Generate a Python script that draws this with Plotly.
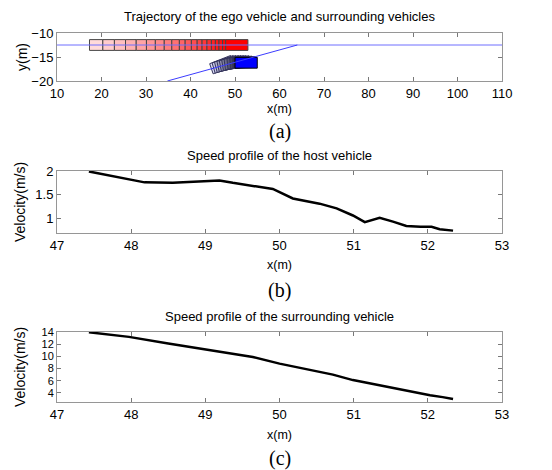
import plotly.graph_objects as go
import numpy as np

# ---------------- data ----------------
# (a) ego vehicle (red) rear x-positions at successive steps
ego_rear_x = [17.3, 20.3, 22.9, 25.4, 27.8, 30.1, 32.1, 34.1, 35.8, 37.5,
              38.8, 40.2, 41.5, 42.6, 43.7, 44.7, 45.6, 46.4, 47.2, 47.9]
ego_center_y = -12.5
vehicle_width = 2.25
vehicle_length = 5.0

# surrounding vehicle (blue) rear-center positions and headings (deg)
sur_rear_x = [44.7, 45.2, 45.7, 46.2, 46.7, 47.2, 47.7, 48.3, 48.9, 49.5, 50.0]
sur_rear_y = [-17.45, -17.3, -17.15, -17.0, -16.85, -16.7, -16.55, -16.4, -16.3, -16.22, -16.2]
sur_heading = [20, 18, 16, 14, 12, 10, 8, 6, 4, 2, 0]

lane_y = -12.5
merge_line_x = [34.8, 64.0]
merge_line_y = [-20.0, -12.5]

# (b) host vehicle speed profile
host_x = [47.43, 47.8, 48.18, 48.56, 48.92, 49.19, 49.37, 49.64, 49.91, 50.18,
          50.54, 50.77, 50.99, 51.15, 51.35, 51.53, 51.71, 51.9, 52.05, 52.16, 52.34]
host_v = [1.99, 1.88, 1.76, 1.75, 1.78, 1.80, 1.75, 1.68, 1.62, 1.42,
          1.31, 1.21, 1.06, 0.92, 1.01, 0.93, 0.84, 0.82, 0.82, 0.77, 0.74]

# (c) surrounding vehicle speed profile
sur_x = [47.43, 47.97, 48.5, 48.99, 49.64, 50.0, 50.4, 50.72, 50.99, 51.35, 51.67, 52.03, 52.2, 52.34]
sur_v = [13.95, 13.2, 12.1, 11.1, 9.9, 8.8, 7.8, 7.0, 6.1, 5.2, 4.4, 3.6, 3.3, 3.0]

titles = ["Trajectory of the ego vehicle and surrounding vehicles",
          "Speed profile of the host vehicle",
          "Speed profile of the surrounding vehicle"]
panel_labels = ["(a)", "(b)", "(c)"]

# ---------------- figure ----------------
W, H = 552, 470
fig = go.Figure()

def py(p):  # pixel-from-top -> paper
    return 1 - p / H

XD = [57 / W, 502 / W]

# red ego vehicle cells
n = len(ego_rear_x)
edges = ego_rear_x + [ego_rear_x[-1] + vehicle_length]
for i in range(n):
    t = i / (n - 1)
    g = int(round(218 * (1 - t) ** 1.2))
    if i == n - 1:
        g = 0
    x0, x1 = edges[i], edges[i + 1]
    y0, y1 = ego_center_y - vehicle_width / 2, ego_center_y + vehicle_width / 2
    fig.add_trace(go.Scatter(x=[x0, x1, x1, x0, x0], y=[y0, y0, y1, y1, y0],
                             mode="lines", fill="toself",
                             fillcolor=f"rgb(255,{g},{g})",
                             line=dict(color="rgb(70,70,70)", width=1),
                             xaxis="x", yaxis="y", showlegend=False, hoverinfo="skip"))

# blue surrounding vehicle boxes
m = len(sur_rear_x)
for i in range(m):
    th = np.deg2rad(sur_heading[i])
    hx, hy = np.cos(th), np.sin(th)
    nx, ny = -np.sin(th), np.cos(th)
    rx, ry = sur_rear_x[i], sur_rear_y[i]
    w2 = vehicle_width / 2
    L = vehicle_length
    xs = [rx + w2 * nx, rx - w2 * nx, rx - w2 * nx + L * hx, rx + w2 * nx + L * hx, rx + w2 * nx]
    ys = [ry + w2 * ny, ry - w2 * ny, ry - w2 * ny + L * hy, ry + w2 * ny + L * hy, ry + w2 * ny]
    if i == m - 1:
        fc = "rgb(0,0,255)"
        lc = "rgb(0,0,0)"
    else:
        t = i / (m - 2)
        c = int(round(220 - 170 * t))
        fc = f"rgb({c},{c},{min(255, c + 30)})"
        lc = "rgb(50,50,90)"
    fig.add_trace(go.Scatter(x=xs, y=ys, mode="lines", fill="toself", fillcolor=fc,
                             line=dict(color=lc, width=1),
                             xaxis="x", yaxis="y", showlegend=False, hoverinfo="skip"))

# lane line and merging path
fig.add_trace(go.Scatter(x=[10, 110], y=[lane_y, lane_y], mode="lines",
                         line=dict(color="rgb(110,110,255)", width=1),
                         xaxis="x", yaxis="y", showlegend=False, hoverinfo="skip"))
fig.add_trace(go.Scatter(x=merge_line_x, y=merge_line_y, mode="lines",
                         line=dict(color="rgb(60,60,255)", width=1),
                         xaxis="x", yaxis="y", showlegend=False, hoverinfo="skip"))

# speed profiles
fig.add_trace(go.Scatter(x=host_x, y=host_v, mode="lines",
                         line=dict(color="black", width=2.5),
                         xaxis="x2", yaxis="y2", showlegend=False))
fig.add_trace(go.Scatter(x=sur_x, y=sur_v, mode="lines",
                         line=dict(color="black", width=2.5),
                         xaxis="x3", yaxis="y3", showlegend=False))

def tf(size):
    return dict(family="Liberation Sans, Arial", size=size, color="black")

axcommon = dict(showline=True, mirror="ticks", linecolor="rgb(150,150,150)", linewidth=1,
                ticks="inside", ticklen=4, tickcolor="rgb(120,120,120)", automargin=False,
                showgrid=False, zeroline=False, fixedrange=True)

panels = [  # (top px, bottom px)
    (33, 81), (171, 233), (332, 402)
]

fig.update_layout(
    width=W, height=H, margin=dict(l=0, r=0, t=0, b=0),
    paper_bgcolor="white", plot_bgcolor="white", showlegend=False,
    xaxis=dict(domain=XD, range=[10, 110], dtick=10, tick0=10, anchor="y", tickfont=tf(13), **axcommon),
    yaxis=dict(domain=[py(81), py(33)], range=[-20, -10], dtick=5, tick0=-20, anchor="x", tickfont=tf(13), **axcommon),
    xaxis2=dict(domain=XD, range=[47, 53], dtick=1, anchor="y2", tickfont=tf(13), **axcommon),
    yaxis2=dict(domain=[py(233), py(171)], range=[0.69, 2.0], tickvals=[1, 1.5, 2], anchor="x2", tickfont=tf(13), **axcommon),
    xaxis3=dict(domain=XD, range=[47, 53], dtick=1, anchor="y3", tickfont=tf(13), **axcommon),
    yaxis3=dict(domain=[py(402), py(332)], range=[2.5, 14], tickvals=[4, 6, 8, 10, 12, 14], anchor="x3", tickfont=tf(11), **axcommon),
)

ann = []
xc = (XD[0] + XD[1]) / 2
title_y = [16, 155, 316]
xlab_y = [109, 265, 435]
panel_y = [131, 290, 458]
ylab = ["y(m)", "Velocity(m/s)", "Velocity(m/s)"]
for k in range(3):
    top, bot = panels[k]
    ann.append(dict(text=titles[k], x=xc, y=py(title_y[k]), xref="paper", yref="paper",
                    showarrow=False, xanchor="center", yanchor="middle", font=tf(13)))
    ann.append(dict(text="x(m)", x=xc, y=py(xlab_y[k]), xref="paper", yref="paper",
                    showarrow=False, xanchor="center", yanchor="middle", font=tf(12.5)))
    ann.append(dict(text=panel_labels[k], x=xc, y=py(panel_y[k]), xref="paper", yref="paper",
                    showarrow=False, xanchor="center", yanchor="middle",
                    font=dict(family="Liberation Serif, Times New Roman", size=20, color="black")))
    ann.append(dict(text=ylab[k], x=(22 if k == 0 else 20) / W, y=py((top + bot) / 2),
                    xref="paper", yref="paper", showarrow=False, textangle=-90,
                    xanchor="center", yanchor="middle", font=tf(14)))
fig.update_layout(annotations=ann)

fig.write_html("out.html", config={"displayModeBar": False},
               post_script="document.body.style.margin='0';document.body.style.overflow='hidden';")
